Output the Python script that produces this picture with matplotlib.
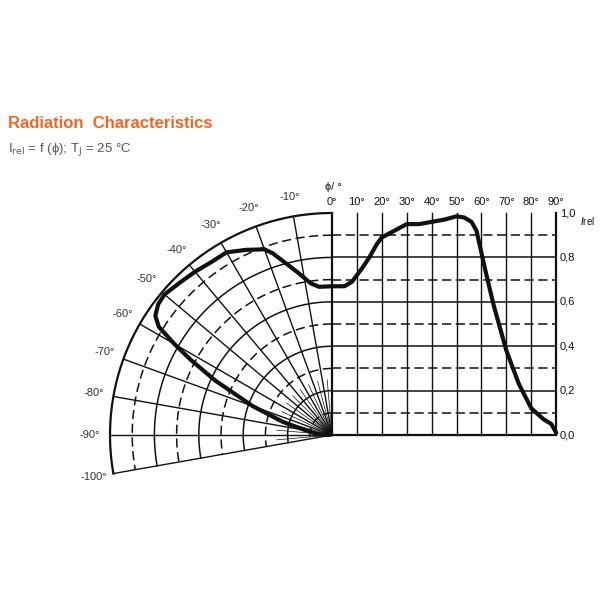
import numpy as np
import matplotlib
matplotlib.use("Agg")
import matplotlib.pyplot as plt

# ---- data: relative intensity vs angle (deg) ----
phi = [0, 5, 8, 12, 15, 18, 20, 25, 30, 35, 40, 45, 50, 53, 56, 58, 60, 62, 65, 70, 75, 80, 85, 88, 90]
irel = [0.67, 0.67, 0.69, 0.75, 0.80, 0.86, 0.89, 0.92, 0.95, 0.95, 0.96, 0.97, 0.985, 0.98, 0.96,
        0.92, 0.82, 0.72, 0.58, 0.38, 0.23, 0.12, 0.07, 0.05, 0.01]
top_ticks = [0, 10, 20, 30, 40, 50, 60, 70, 80, 90]
polar_ticks = [-10, -20, -30, -40, -50, -60, -70, -80, -90, -100]
y_ticks = [0.0, 0.2, 0.4, 0.6, 0.8, 1.0]

ORANGE = "#f26522"
INK = "#111111"
GREY = "#333333"
plt.rcParams["font.family"] = ["Liberation Sans", "DejaVu Sans"]

# pixel frame: origin and unit radius
OX, OY, R = 332, 435, 222


def px(x, y):
    return OX + R * np.asarray(x), OY - R * np.asarray(y)


fig = plt.figure(figsize=(6, 6), dpi=100)
ax = fig.add_axes([0, 0, 1, 1])
ax.set_xlim(0, 600)
ax.set_ylim(600, 0)
ax.axis("off")

DASH = (0, (6, 3))

# ---- polar grid (left) ----
t = np.radians(np.linspace(0, -100, 200))
for k in range(1, 11):
    r = k / 10
    ls = "-" if k % 2 == 0 else DASH
    lw = 1.6 if k == 10 else 1.1
    ax.plot(*px(r * np.sin(t), r * np.cos(t)), color=INK, lw=lw, ls=ls)
for a in range(-10, -101, -10):
    ar = np.radians(a)
    ax.plot(*px([0, np.sin(ar)], [0, np.cos(ar)]), color=INK, lw=1.0)
for a in range(-5, -100, -10):
    ar = np.radians(a)
    ax.plot(*px([0, 0.25 * np.sin(ar)], [0, 0.25 * np.cos(ar)]), color=INK, lw=0.5)

# ---- cartesian grid (right) ----
xr = 1.01
for k in range(0, 10):
    y = k / 10
    ls = "-" if k % 2 == 0 else DASH
    ax.plot(*px([0, xr], [y, y]), color=INK, lw=1.6 if k == 0 else 1.1, ls=ls)
for p in top_ticks:
    x = p / 90 * 1.01
    ax.plot(*px([x, x], [0, 1.0]), color=INK, lw=1.6 if p in (0, 90) else 1.0)

# ---- curve ----
ph = np.array(phi)
iv = np.array(irel)
ax.plot(*px(ph / 90 * 1.01, iv), color=INK, lw=3, solid_capstyle="round", solid_joinstyle="round")
pr = np.radians(-ph)
ax.plot(*px(iv * np.sin(pr), iv * np.cos(pr)), color=INK, lw=3,
        solid_capstyle="round", solid_joinstyle="round")

# ---- labels ----
for p in top_ticks:
    x, _ = px(p / 90 * 1.01, 0)
    ax.text(x, 202, f"{p}°", ha="center", va="center", fontsize=8, color=INK)
for a in polar_ticks:
    ar = np.radians(a)
    x, y = px(1.09 * np.sin(ar), 1.09 * np.cos(ar))
    ax.text(x, y, f"{a}°", ha="center", va="center", fontsize=8, color=GREY)
for v in y_ticks:
    _, y = px(0, v)
    ax.text(560, y, f"{v:.1f}".replace(".", ","), ha="left", va="center", fontsize=8, color=INK)
ax.text(580, 221, "$I$rel", ha="left", va="center", fontsize=7, color=INK)
ax.text(333, 187, "ϕ/ °", ha="center", va="center", fontsize=8, color=INK)

ax.text(8, 123, "Radiation  Characteristics", ha="left", va="center",
        fontsize=12, fontweight="bold", color=ORANGE)
ax.text(8, 150, r"I$_{\mathrm{rel}}$ = f (ϕ); T$_{\mathrm{J}}$ = 25 °C", ha="left", va="center",
        fontsize=9.5, color="#555555")

fig.savefig("out.png", dpi=100, facecolor="white")
